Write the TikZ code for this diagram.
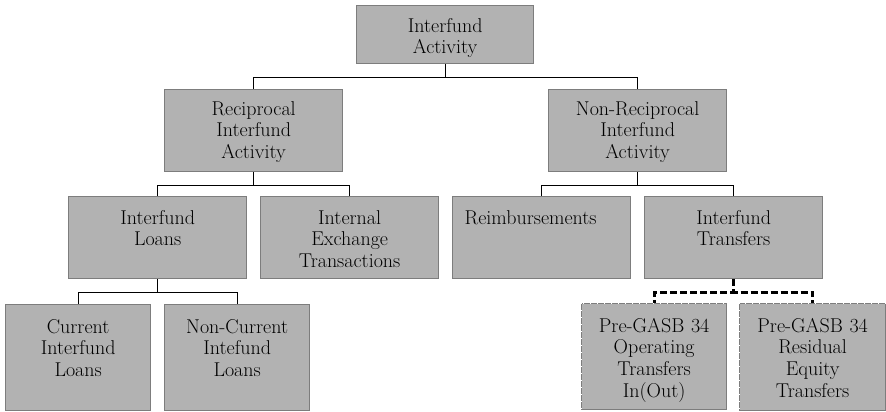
\documentclass[tikz,border=0pt]{standalone}
\usetikzlibrary{calc}
\definecolor{boxfill}{RGB}{178,178,178}
\definecolor{boxline}{RGB}{125,125,125}
\tikzset{
  box/.style={draw=boxline, fill=boxfill, line width=1.3bp, inner sep=0pt, anchor=north west},
  wide/.style={minimum width=178bp, minimum height=82bp},
  narrow/.style={minimum width=145bp, minimum height=106bp},
  lbl/.style={anchor=base, align=center, text width=170bp, inner sep=0pt,
              font=\fontsize{20bp}{21.7bp}\selectfont},
  conn/.style={draw=black, line width=1.3bp},
  dconn/.style={draw=black, line width=3bp, dash pattern=on 7bp off 3bp},
  dotedge/.style={draw=white, line width=0.7bp, dash pattern=on 1bp off 6bp}
}
\begin{document}
\begin{tikzpicture}[x=1bp, y=-1bp]
\useasboundingbox (0,0) rectangle (886,411);
% boxes
\node[box, minimum width=177bp, minimum height=58bp] (A) at (356,5) {};
\node[box, wide] (R) at (164,89) {};
\node[box, wide] (N) at (548,89) {};
\node[box, wide] (L) at (68,196) {};
\node[box, wide] (E) at (260,196) {};
\node[box, wide] (M) at (452,196) {};
\node[box, wide] (T) at (644,196) {};
\node[box, narrow] (C) at (5,304) {};
\node[box, narrow] (D) at (164,304) {};
\node[box, narrow] (P) at (581,303) {};
\node[box, minimum width=146bp, minimum height=107bp] (Q) at (739,303) {};
\draw[dotedge] (P.north west) rectangle (P.south east);
\draw[dotedge] (Q.north west) rectangle (Q.south east);
% labels
\node[lbl] (At) at ([yshift=-27bp]A.north) {Interfund\\Activity};
\node[lbl] (Rt) at ([yshift=-26bp]R.north) {Reciprocal\\Interfund\\Activity};
\node[lbl] (Nt) at ([yshift=-26bp]N.north) {Non-Reciprocal\\Interfund\\Activity};
\node[lbl] (Lt) at ([yshift=-28bp]L.north) {Interfund\\Loans};
\node[lbl] (Et) at ([yshift=-28bp]E.north) {Internal\\Exchange\\Transactions};
\node[lbl] (Mt) at ([yshift=-28bp,xshift=-11bp]M.north) {Reimbursements};
\node[lbl] (Tt) at ([yshift=-28bp]T.north) {Interfund\\Transfers};
\node[lbl] (Ct) at ([yshift=-29bp]C.north) {Current\\Interfund\\Loans};
\node[lbl] (Dt) at ([yshift=-29bp]D.north) {Non-Current\\Intefund\\Loans};
\node[lbl] (Pt) at ([yshift=-29bp]P.north) {Pre-GASB 34\\Operating\\Transfers\\In(Out)};
\node[lbl] (Qt) at ([yshift=-29bp]Q.north) {Pre-GASB 34\\Residual\\Equity\\Transfers};
% connectors
\draw[conn] (A.south) -- ++(0,-13bp) -| (R.north);
\draw[conn] (A.south) -- ++(0,-13bp) -| (N.north);
\draw[conn] (R.south) -- ++(0,-13bp) -| (L.north);
\draw[conn] (R.south) -- ++(0,-13bp) -| (E.north);
\draw[conn] (N.south) -- ++(0,-13bp) -| (M.north);
\draw[conn] (N.south) -- ++(0,-13bp) -| (T.north);
\draw[conn] (L.south) -- ++(0,-13bp) -| (C.north);
\draw[conn] (L.south) -- ++(0,-13bp) -| (D.north);
\draw[dconn] (T.south) -- ++(0,-13bp) -| (P.north);
\draw[dconn] (T.south) -- ++(0,-13bp) -| (Q.north);
\end{tikzpicture}
\end{document}
